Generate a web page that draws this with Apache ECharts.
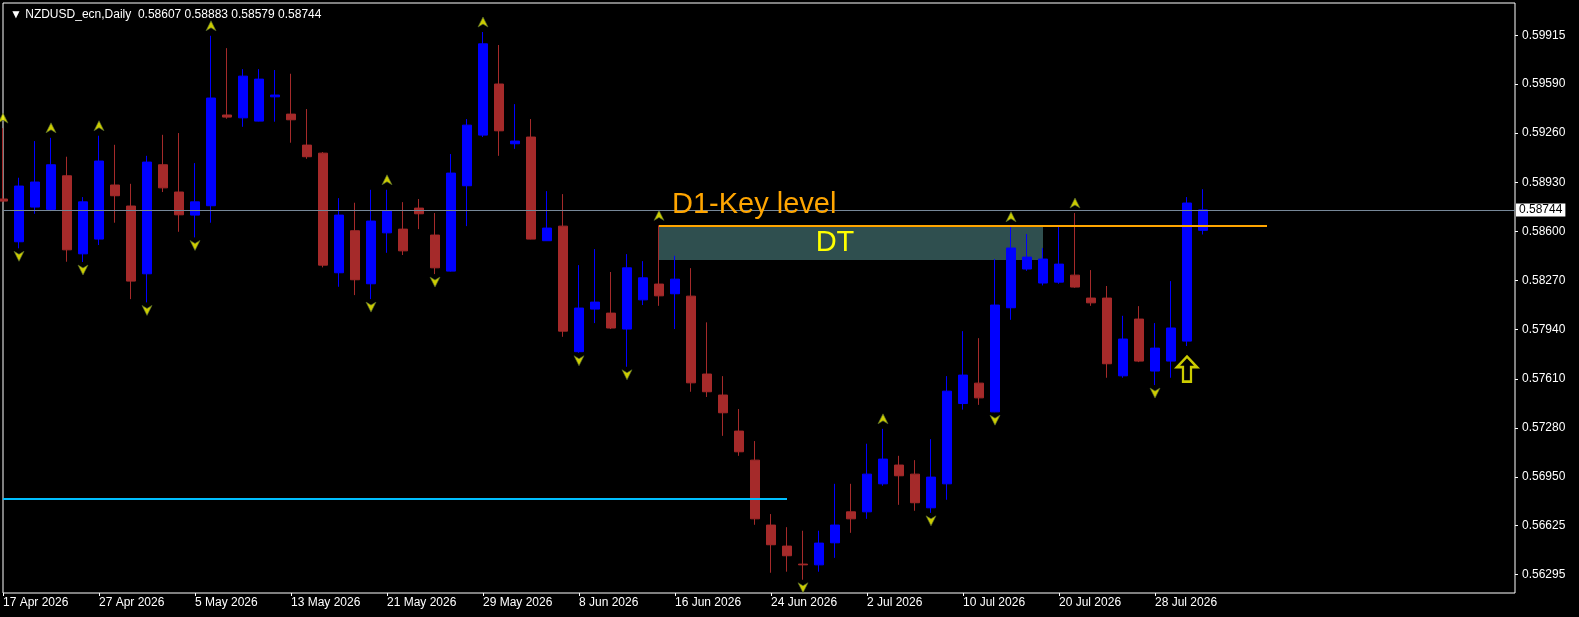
<!DOCTYPE html>
<html>
<head>
<meta charset="utf-8">
<title>NZDUSD Daily</title>
<script src="https://cdn.jsdelivr.net/npm/echarts@6/dist/echarts.min.js"></script>
<style>
  html, body { margin: 0; padding: 0; background: #000; }
  #chart { width: 1579px; height: 617px; }
</style>
</head>
<body>
<div id="chart"></div>
<script>
// daily candles, 17 Apr 2026 .. 31 Jul 2026 (index = trading day)
const opens = [0.58817, 0.58530, 0.58763, 0.58747, 0.58973, 0.58449, 0.58548, 0.58911, 0.58770, 0.58315,
  0.59047, 0.58864, 0.58709, 0.58772, 0.59381, 0.59362, 0.59340, 0.59503, 0.59387, 0.59179,
  0.59125, 0.58322, 0.58604, 0.58248, 0.58590, 0.58615, 0.58756, 0.58575, 0.58333, 0.58906,
  0.59246, 0.59589, 0.59188, 0.59233, 0.58537, 0.58635, 0.57792, 0.58078, 0.58051, 0.57944,
  0.58140, 0.58246, 0.58181, 0.58165, 0.57642, 0.57501, 0.57259, 0.57064, 0.56628, 0.56487,
  0.56366, 0.56361, 0.56509, 0.56717, 0.56717, 0.56905, 0.57031, 0.56970, 0.56744, 0.56905,
  0.57444, 0.57581, 0.57388, 0.58087, 0.58347, 0.58253, 0.58259, 0.58306, 0.58152, 0.58152,
  0.57630, 0.58011, 0.57662, 0.57729, 0.57863, 0.58607];
const closes = [0.58803, 0.58904, 0.58931, 0.59047, 0.58476, 0.58798, 0.59072, 0.58839, 0.58266, 0.59065,
  0.58892, 0.58711, 0.58798, 0.59495, 0.59367, 0.59642, 0.59622, 0.59515, 0.59349, 0.59101,
  0.58373, 0.58709, 0.58275, 0.58669, 0.58738, 0.58469, 0.58718, 0.58355, 0.58991, 0.59313,
  0.59859, 0.59275, 0.59206, 0.58548, 0.58622, 0.57930, 0.58085, 0.58125, 0.57951, 0.58355,
  0.58288, 0.58167, 0.58279, 0.57583, 0.57523, 0.57382, 0.57120, 0.56670, 0.56496, 0.56422,
  0.56361, 0.56507, 0.56628, 0.56670, 0.56970, 0.57071, 0.56959, 0.56778, 0.56950, 0.57527,
  0.57635, 0.57482, 0.58105, 0.58488, 0.58427, 0.58414, 0.58380, 0.58226, 0.58120, 0.57711,
  0.57877, 0.57729, 0.57816, 0.57951, 0.58790, 0.58744];
const lows = [0.58796, 0.58486, 0.58718, 0.58736, 0.58396, 0.58394, 0.58508, 0.58658, 0.58145, 0.58123,
  0.58864, 0.58597, 0.58559, 0.58658, 0.59356, 0.59302, 0.59338, 0.59336, 0.59195, 0.59087,
  0.58358, 0.58228, 0.58172, 0.58145, 0.58456, 0.58441, 0.58615, 0.58313, 0.58330, 0.58635,
  0.59233, 0.59107, 0.59154, 0.58546, 0.58535, 0.57892, 0.57785, 0.57984, 0.57944, 0.57691,
  0.58105, 0.58100, 0.57944, 0.57523, 0.57488, 0.57227, 0.57093, 0.56630, 0.56308, 0.56315,
  0.56261, 0.56315, 0.56408, 0.56576, 0.56670, 0.56892, 0.56764, 0.56724, 0.56710, 0.56798,
  0.57403, 0.57435, 0.57386, 0.58006, 0.58335, 0.58237, 0.58248, 0.58221, 0.58100, 0.57617,
  0.57617, 0.57722, 0.57568, 0.57617, 0.57830, 0.58579];
const highs = [0.59293, 0.58960, 0.59206, 0.59228, 0.59101, 0.58830, 0.59242, 0.59181, 0.58919, 0.59107,
  0.59248, 0.59260, 0.59058, 0.59913, 0.59830, 0.59689, 0.59689, 0.59683, 0.59658, 0.59421,
  0.59132, 0.58823, 0.58792, 0.58879, 0.58879, 0.58796, 0.58817, 0.58723, 0.59119, 0.59354,
  0.59938, 0.59851, 0.59454, 0.59354, 0.58870, 0.58850, 0.58373, 0.58481, 0.58327, 0.58447,
  0.58400, 0.58640, 0.58436, 0.58353, 0.57989, 0.57628, 0.57407, 0.57192, 0.56702, 0.56614,
  0.56590, 0.56590, 0.56905, 0.56905, 0.57174, 0.57274, 0.57093, 0.57064, 0.57205, 0.57628,
  0.57930, 0.57883, 0.58414, 0.58631, 0.58582, 0.58488, 0.58629, 0.58723, 0.58340, 0.58233,
  0.58033, 0.58098, 0.57984, 0.58266, 0.58830, 0.58883];

// fractal arrows (candle indices)
const upFractals = [0, 3, 6, 13, 24, 30, 41, 55, 63, 67];
const downFractals = [1, 5, 9, 12, 23, 27, 36, 39, 50, 58, 62, 72];
const signalBar = 74;

// axes
const dateTicks = [0, 6, 12, 18, 24, 30, 36, 42, 48, 54, 60, 66, 72];
const dateLabels = ['17 Apr 2026', '27 Apr 2026', '5 May 2026', '13 May 2026', '21 May 2026', '29 May 2026',
  '8 Jun 2026', '16 Jun 2026', '24 Jun 2026', '2 Jul 2026', '10 Jul 2026', '20 Jul 2026', '28 Jul 2026'];
const priceTicks = [0.59915, 0.59590, 0.59260, 0.58930, 0.58600, 0.58270, 0.57940, 0.57610, 0.57280, 0.56950, 0.56625, 0.56295];

// levels
const bid = 0.58744;
const keyLevel = 0.58638;
const keyFrom = 41, keyTo = 79;
const dtBottom = 0.58407, dtTo = 65;
const supportLevel = 0.56806, supportTo = 49;
const xMax = 94.5;

const header = '\u25BC NZDUSD_ecn,Daily  ' + [opens[75], highs[75], lows[75], closes[75]].map(v => v.toFixed(5)).join(' ');

const candles = opens.map((o, i) => [i, o, closes[i], lows[i], highs[i]]);
const FONT = 'Liberation Sans, Arial, sans-serif';

const chart = echarts.init(document.getElementById('chart'));
chart.setOption({
  backgroundColor: '#000',
  animation: false,
  title: {
    text: header,
    left: 5,
    top: 4,
    textStyle: { color: '#fff', fontSize: 12, fontWeight: 'normal', fontFamily: FONT }
  },
  grid: {
    left: 3, right: 64, top: 3, bottom: 24,
    show: true, borderColor: '#fff', borderWidth: 1, backgroundColor: '#000'
  },
  xAxis: {
    type: 'value',
    min: 0,
    max: xMax,
    axisLine: { show: false, onZero: false },
    splitLine: { show: false },
    axisTick: { show: true, customValues: dateTicks, length: 3, lineStyle: { color: '#fff' } },
    axisLabel: {
      customValues: dateTicks,
      formatter: v => dateLabels[dateTicks.indexOf(v)] || '',
      align: 'left',
      color: '#fff',
      fontSize: 12,
      fontFamily: FONT,
      margin: 4
    }
  },
  yAxis: {
    type: 'value',
    position: 'right',
    min: 0.56172,
    max: 0.60133,
    axisLine: { show: false, onZero: false },
    splitLine: { show: false },
    axisTick: { show: true, customValues: priceTicks, length: 3, lineStyle: { color: '#fff' } },
    axisLabel: {
      customValues: priceTicks,
      formatter: v => v.toFixed(5),
      color: '#fff',
      fontSize: 12,
      fontFamily: FONT,
      margin: 7
    }
  },
  series: [
    {
      type: 'candlestick',
      data: candles,
      barWidth: 10,
      clip: true,
      itemStyle: {
        color: '#0000ff', borderColor: '#0000ff',
        color0: '#a52a2a', borderColor0: '#a52a2a',
        borderWidth: 1
      },
      markArea: {
        silent: true,
        data: [[
          {
            coord: [keyFrom, keyLevel],
            itemStyle: { color: '#2f4f4f' },
            label: { show: true, position: 'inside', formatter: 'DT', color: '#ffff00', fontSize: 29, fontFamily: FONT, offset: [-16, 0] }
          },
          { coord: [dtTo, dtBottom] }
        ]]
      },
      markLine: {
        silent: true,
        symbol: 'none',
        data: [
          [
            {
              coord: [0, bid],
              lineStyle: { color: '#778899', width: 1, type: 'solid' },
              label: {
                show: true, position: 'end', formatter: bid.toFixed(5), distance: 1,
                backgroundColor: '#fff', color: '#000', fontSize: 12, fontFamily: FONT, padding: [1, 3, 0, 3]
              }
            },
            { coord: [xMax, bid] }
          ],
          [
            {
              coord: [keyFrom, keyLevel],
              lineStyle: { color: '#ffa500', width: 2, type: 'solid' },
              label: { show: true, position: 'insideStartTop', formatter: 'D1-Key level', color: '#ffa500', fontSize: 29, fontFamily: FONT, distance: [13, 6] }
            },
            { coord: [keyTo, keyLevel] }
          ],
          [
            {
              coord: [0, supportLevel],
              lineStyle: { color: '#00bfff', width: 2, type: 'solid' },
              label: { show: false }
            },
            { coord: [supportTo, supportLevel] }
          ]
        ]
      }
    },
    {
      type: 'scatter',
      data: upFractals.map(i => [i, highs[i]]),
      symbol: 'path://M5,0 L10,10 L5,7 L0,10 Z',
      symbolSize: [10, 10],
      symbolOffset: [0, -10],
      itemStyle: { color: '#ffff00', borderColor: '#556b2f', borderWidth: 0.8 },
      z: 3
    },
    {
      type: 'scatter',
      data: downFractals.map(i => [i, lows[i]]),
      symbol: 'path://M0,0 L5,3 L10,0 L5,10 Z',
      symbolSize: [10, 10],
      symbolOffset: [0, 8],
      itemStyle: { color: '#ffff00', borderColor: '#556b2f', borderWidth: 0.8 },
      z: 3
    },
    {
      type: 'scatter',
      data: [[signalBar, lows[signalBar]]],
      symbol: 'path://M10,0 L20,11 L14,11 L14,26 L6,26 L6,11 L0,11 Z',
      symbolSize: [20, 25],
      symbolOffset: [0, 23],
      itemStyle: { color: 'rgba(0,0,0,0)', borderColor: '#ffff00', borderWidth: 2.5 },
      z: 3
    }
  ]
});
</script>
</body>
</html>
